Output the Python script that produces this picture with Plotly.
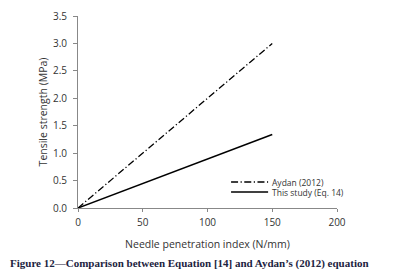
import plotly.graph_objects as go

npi = [0, 150]
aydan = [0.0, 3.0]
this_study = [0.0, 1.34]
series_names = ["Aydan (2012)", "This study (Eq. 14)"]

DASH = "7px,2.5px,1.2px,2.5px"

fig = go.Figure()
fig.add_trace(go.Scatter(x=npi, y=aydan, mode="lines", name=series_names[0],
                         line=dict(color="black", width=1.3, dash=DASH), showlegend=False))
fig.add_trace(go.Scatter(x=npi, y=this_study, mode="lines", name=series_names[1],
                         line=dict(color="black", width=1.5), showlegend=False))

font_ax = "Open Sans, Liberation Sans, sans-serif"
# page body has an 8px margin; figure is sized to fill the rest of the window
fig.update_layout(
    width=385, height=269,
    margin=dict(l=70, r=56, t=8, b=69),
    paper_bgcolor="white", plot_bgcolor="white",
    font=dict(family=font_ax, size=10, color="#333333"),
    showlegend=False,
    xaxis=dict(range=[0, 200], tickvals=[0, 50, 100, 150, 200], showgrid=False,
               zeroline=False, showline=True, linecolor="#888888", linewidth=1,
               ticks="outside", ticklen=3, tickcolor="#888888", automargin=False,
               ticklabelstandoff=2,
               title=dict(text="Needle penetration index (N/mm)", standoff=12,
                          font=dict(size=10.5, color="#333333"))),
    yaxis=dict(range=[0, 3.5], tickvals=[0, 0.5, 1, 1.5, 2, 2.5, 3, 3.5],
               tickformat=".1f", showgrid=False, zeroline=False, showline=True,
               linecolor="#888888", linewidth=1, ticks="outside", ticklen=4,
               tickcolor="#888888", automargin=False, ticklabelstandoff=4,
               title=dict(text="Tensile strength (MPa)", standoff=3,
                          font=dict(size=10.5, color="#333333"))),
)

# compact legend drawn as shapes + text
leg_y = [0.1354, 0.0833]
leg_dash = [DASH, "solid"]
leg_w = [1.3, 1.5]
for name, yy, dd, ww in zip(series_names, leg_y, leg_dash, leg_w):
    fig.add_shape(type="line", xref="paper", yref="paper", x0=0.591, x1=0.734, y0=yy, y1=yy,
                  line=dict(color="black", width=ww, dash=dd))
    fig.add_annotation(text=name, xref="paper", yref="paper", x=0.745, y=yy,
                       xanchor="left", yanchor="middle", showarrow=False, borderpad=0,
                       font=dict(size=8.5, color="#333333"))

fig.add_annotation(text="<b>Figure 12—Comparison between Equation [14] and Aydan’s (2012) equation</b>",
                   xref="paper", yref="paper", x=-70/259, y=-55/192, xanchor="left", yanchor="middle",
                   showarrow=False, font=dict(family="Liberation Serif, serif", size=11, color="#1c2340"))
fig.write_html("out.html")
